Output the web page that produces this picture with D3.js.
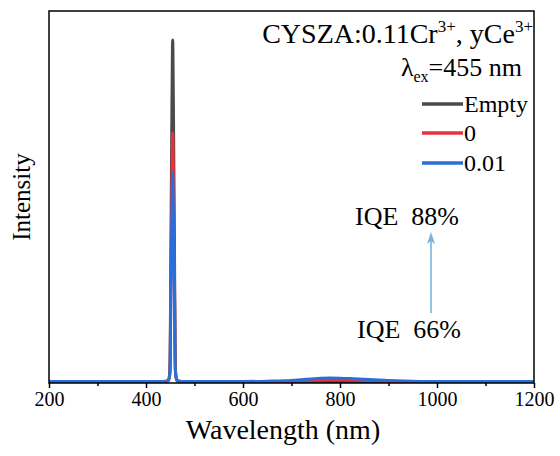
<!DOCTYPE html>
<html><head><meta charset="utf-8">
<script src="https://cdn.jsdelivr.net/npm/d3@7"></script>
<style>body{margin:0;background:#fff}svg{display:block}svg text{font-family:"Liberation Serif","Times New Roman",serif !important;fill:#000}</style>
</head><body><div id="chart"></div>
<script>
// Data
const wavelengths = [200,300,400,430,440,446,449,450,450.5,451.5,453,454.5,455,455.5,457,458.5,459.5,460,461,464,470,480,500,600,650,700,720,740,760,780,800,820,850,900,950,1000,1100,1200];
const emptyVals  = [0.004,0.004,0.004,0.004,0.004,0.006,0.03,0.10,0.20,0.40,0.66,0.90,0.922,0.90,0.66,0.40,0.20,0.10,0.03,0.006,0.004,0.004,0.004,0.004,0.004,0.004,0.004,0.004,0.004,0.004,0.004,0.004,0.004,0.004,0.004,0.004,0.004,0.004];
const zeroVals   = [0.004,0.004,0.004,0.004,0.004,0.006,0.025,0.08,0.16,0.30,0.48,0.65,0.672,0.65,0.48,0.30,0.16,0.08,0.025,0.006,0.004,0.004,0.004,0.004,0.004,0.005,0.006,0.007,0.008,0.009,0.009,0.008,0.007,0.005,0.004,0.004,0.004,0.004];
const blueVals   = [0.004,0.004,0.004,0.004,0.005,0.008,0.022,0.07,0.14,0.26,0.41,0.55,0.565,0.55,0.41,0.26,0.14,0.07,0.022,0.008,0.005,0.004,0.004,0.004,0.005,0.007,0.009,0.011,0.013,0.0135,0.013,0.012,0.010,0.007,0.005,0.004,0.004,0.004];
const seriesNames = ["Empty","0","0.01"];
const seriesColors = ["#4a4a4a","#e8333c","#2a6fd9"];
const xTicks = [200,400,600,800,1000,1200];
const xMinorTicks = [300,500,700,900,1100];

const W=560,H=456, L=49, R=534, T=11, B=383;
const svg=d3.select("#chart").append("svg").attr("width",W).attr("height",H);
const x=d3.scaleLinear().domain([200,1200]).range([L,R]);
const y=d3.scaleLinear().domain([0,1]).range([B,T]);

const seriesVals=[emptyVals,zeroVals,blueVals];
const line=d3.line().x((d,i)=>x(wavelengths[i])).y(d=>y(d)).curve(d3.curveMonotoneX);
svg.append("clipPath").attr("id","c").append("rect").attr("x",L).attr("y",T).attr("width",R-L).attr("height",B-T);
seriesVals.forEach((vals,k)=>{
  svg.append("path").datum(vals).attr("d",line).attr("fill","none")
    .attr("stroke",seriesColors[k]).attr("stroke-width",3).attr("stroke-linejoin","round")
    .attr("clip-path","url(#c)");
});

// axes
const xAxis=d3.axisBottom(x).tickValues(xTicks).tickSize(5).tickPadding(4).tickFormat(d3.format("d"));
const gx=svg.append("g").attr("transform",`translate(0,${B})`).call(xAxis);
gx.select(".domain").remove();
gx.selectAll("line").attr("stroke","#000").attr("stroke-width",1.5);
gx.selectAll("text").attr("font-size",20).attr("fill","#000");
const gm=svg.append("g").attr("transform",`translate(0,${B})`).call(d3.axisBottom(x).tickValues(xMinorTicks).tickSize(3).tickFormat(""));
gm.select(".domain").remove();
gm.selectAll("line").attr("stroke","#000").attr("stroke-width",1.5);

svg.append("rect").attr("x",L).attr("y",T).attr("width",R-L).attr("height",B-T)
  .attr("fill","none").attr("stroke","#000").attr("stroke-width",1.5);

svg.append("text").attr("x",283).attr("y",439).attr("text-anchor","middle").attr("font-size",28).text("Wavelength (nm)");
svg.append("text").attr("transform","translate(30,197) rotate(-90)").attr("text-anchor","middle").attr("font-size",25).text("Intensity");

// title
const t1=svg.append("text").attr("x",533).attr("y",43).attr("text-anchor","end").attr("font-size",28);
t1.append("tspan").text("CYSZA:0.11Cr");
t1.append("tspan").attr("font-size",17).attr("dy",-11).text("3+");
t1.append("tspan").attr("dy",11).text(", yCe");
t1.append("tspan").attr("font-size",17).attr("dy",-11).text("3+");

const t2=svg.append("text").attr("x",522).attr("y",76).attr("text-anchor","end").attr("font-size",26);
t2.append("tspan").text("λ");
t2.append("tspan").attr("font-size",16).attr("dy",6).text("ex");
t2.append("tspan").attr("dy",-6).text("=455 nm");

// legend
const legY=[104,133,163];
seriesNames.forEach((n,k)=>{
  svg.append("line").attr("x1",422).attr("x2",463).attr("y1",legY[k]).attr("y2",legY[k])
    .attr("stroke",seriesColors[k]).attr("stroke-width",3.5);
  svg.append("text").attr("x",464).attr("y",legY[k]+8).attr("font-size",24).text(n);
});

// annotations
svg.append("text").attr("x",355).attr("y",225).attr("font-size",26).attr("xml:space","preserve").text("IQE  88%");
svg.append("text").attr("x",357).attr("y",338).attr("font-size",26).attr("xml:space","preserve").text("IQE  66%");
svg.append("line").attr("x1",431).attr("x2",431).attr("y1",313).attr("y2",240).attr("stroke","#7ab3dc").attr("stroke-width",1.6);
svg.append("path").attr("d","M431,232 L427,244 L431,241 L435,244 Z").attr("fill","#7ab3dc");
</script></body></html>
